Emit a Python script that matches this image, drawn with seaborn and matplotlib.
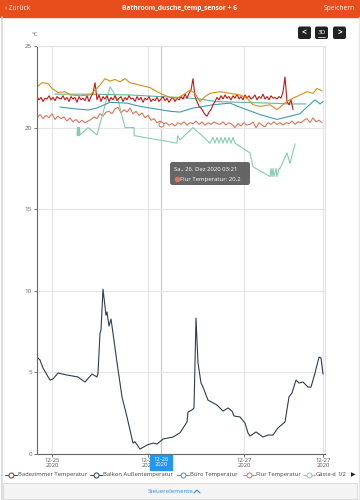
import numpy as np
import pandas as pd
import matplotlib
matplotlib.use("Agg")
import matplotlib.pyplot as plt
from matplotlib.patches import Rectangle, FancyBboxPatch
import seaborn as sns

sns.set_theme(style="white")
plt.rcParams["font.family"] = ["Open Sans", "DejaVu Sans"]

# ── data (hours since 25 Dec 2020 00:00) ────────────────────────────────────
bad_t0, bad_dt = -3.75, 0.5
bad_temp = [
    21.9, 21.7, 21.85, 21.6, 21.8, 21.75, 21.95, 21.7, 21.85, 21.65, 21.9, 21.8,
    21.75, 21.95, 21.7, 21.85, 21.6, 21.9, 21.75, 21.85, 21.55, 21.9, 21.7, 21.8,
    21.65, 21.95, 21.6, 21.9, 22.1, 22.75, 21.7, 22.0, 21.6, 21.9, 21.75, 21.95,
    21.6, 21.85, 21.7, 21.95, 21.65, 21.8, 21.9, 21.6, 21.85, 21.7, 21.95, 21.75,
    21.8, 21.6, 21.9, 21.7, 21.85, 21.55, 21.8, 21.7, 21.9, 21.6, 21.75, 21.65,
    21.85, 21.6, 21.75, 21.9, 21.65, 21.8, 21.55, 21.75, 21.85, 21.6, 21.8, 21.7,
    21.9, 21.75, 22.05, 21.8, 22.1, 22.3, 23.0, 21.9, 21.6, 21.3, 21.2, 21.0,
    20.8, 20.7, 20.95, 21.1, 21.4, 21.6, 21.85, 21.7, 21.95, 21.75, 22.0, 21.8,
    21.9, 21.7, 21.95, 21.8, 22.05, 21.75, 21.9, 21.7, 22.0, 21.8, 21.95, 21.75,
    21.85, 22.0, 21.7, 21.9, 21.8, 22.05, 21.75, 21.9, 21.7, 21.95, 21.8, 21.85,
    21.75, 21.9, 21.8, 22.2, 23.1, 21.6, 21.4, 21.7, 21.1,
]

flur_t0, flur_dt = -3.75, 0.75
flur_temp = [
    20.6, 20.8, 20.55, 20.75, 20.6, 20.85, 20.5, 20.7, 20.55, 20.65, 20.4, 20.6,
    20.35, 20.5, 20.3, 20.45, 20.3, 20.4, 20.5, 20.65, 20.55, 20.85, 20.7, 20.95,
    21.0, 20.85, 21.15, 21.25, 20.9, 21.1, 20.95, 21.2, 20.85, 21.0, 20.75, 20.9,
    20.6, 20.75, 20.45, 20.55, 20.3, 20.4, 20.2, 20.3, 20.15, 20.25, 20.1, 20.3,
    20.2, 20.35, 20.15, 20.3, 20.25, 20.4, 20.2, 20.35, 20.15, 20.3, 20.2, 20.35,
    20.25, 20.2, 20.35, 20.15, 20.3, 20.2, 20.0, 20.25, 20.1, 20.3, 20.15, 20.2,
    20.35, 20.0, 20.3, 20.15, 20.05, 20.3, 20.2, 20.35, 20.2, 20.3, 20.15, 20.3,
    20.25, 20.4, 20.2, 20.35, 20.3, 20.45, 20.55, 20.3, 20.6, 20.35, 20.45, 20.3,
]

buero_t = [2, 5.75, 9, 11.25, 14.5, 18.75, 22, 25.75, 29.5, 32, 35.25, 37, 40.25,
           44.5, 47, 52, 56.25, 59.5, 62, 63.75, 65.75, 67, 67.75]
buero_temp = [21.26, 21.15, 21.08, 21.2, 21.55, 21.5, 21.3, 21.15, 21.0, 20.95, 21.2,
              21.26, 21.4, 21.5, 21.25, 20.8, 20.5, 20.7, 20.85, 21.26, 21.7, 21.45, 21.6]

gaeste_t = [6.25, 6.38, 6.5, 6.62, 6.75, 6.88, 7, 9, 11.25, 14.5, 16.5, 18.25, 20.5,
            20.55, 20.75, 31.25, 31.4, 32, 35.25, 39.5, 40.25, 40.75, 41.25, 41.75,
            42.25, 42.75, 43.25, 43.75, 44.25, 44.75, 45.25, 45.75, 49.5, 50.25, 54.5,
            54.75, 55, 55.25, 55.5, 56, 56.25, 56.75, 57, 58.75, 59.5, 60.75]
gaeste_temp = [19.55, 20.0, 19.5, 20.0, 19.5, 20.0, 19.55, 20.0, 19.55, 22.5, 21.7,
               20.0, 20.0, 19.5, 19.5, 19.05, 19.5, 19.25, 20.0, 19.05, 19.4, 19.05,
               19.4, 19.05, 19.4, 19.05, 19.4, 19.05, 19.4, 19.05, 19.4, 19.05, 18.45,
               17.6, 17.0, 17.5, 17.0, 17.5, 17.0, 17.5, 17.0, 17.5, 17.5, 18.45, 17.8, 19.0]

kueche_t = [0.75, 9.5, 19.5, 27, 32, 37, 40.75, 47, 54.5, 59.5, 63.5]
kueche_temp = [22.05, 22.05, 22.0, 21.9, 21.85, 21.75, 21.6, 21.55, 21.5, 21.45, 21.45]

schlaf_t = [-3.5, -2.5, -1, 0, 1.5, 3.25, 4.5, 7, 9.5, 10.75, 12, 13.25, 14.5, 15.75,
            17, 18.25, 19.5, 22, 24.5, 26.25, 27.5, 29.5, 31.25, 32.75, 34.5, 35.75,
            37, 38.25, 39.5, 42, 44.5, 47, 48.75, 50.25, 52, 54.5, 56.25, 57.75,
            58.75, 60.25, 62, 63.75, 65.25, 66.25, 67.5]
schlaf_temp = [22.55, 22.75, 22.7, 22.4, 22.15, 22.2, 22.0, 21.95, 22.0, 22.3, 22.6,
               23.0, 22.85, 22.95, 22.8, 23.0, 22.75, 22.6, 22.45, 22.2, 22.05, 21.85,
               21.8, 22.0, 22.3, 22.1, 21.6, 21.9, 22.1, 22.2, 22.1, 22.0, 21.8, 21.4,
               21.3, 21.4, 21.1, 21.4, 21.6, 21.8, 22.0, 22.2, 22.1, 22.4, 22.25]

balkon_t = [-3.5, -3, -2.25, -0.5, 0.25, 1.5, 3.75, 6.5, 8.25, 10, 11.25, 11.5, 12,
            12.25, 12.75, 13.5, 13.75, 14.25, 14.75, 15.25, 16.25, 17.5, 18.75, 20.25,
            20.75, 22, 23.75, 25.25, 26.25, 27.75, 30.25, 32, 33.75, 34, 35, 35.5, 36,
            36.5, 37.25, 37.75, 39, 41.25, 42.75, 44, 45, 45.5, 47, 48.25, 49, 49.5,
            51, 52.75, 54, 55.25, 56.5, 58.25, 59.25, 60, 61, 61.75, 62.75, 64, 64.75,
            65.75, 66.75, 67.25, 67.75]
balkon_temp = [5.88, 5.76, 5.27, 4.53, 4.6, 4.96, 4.84, 4.72, 4.41, 4.9, 4.72, 4.96,
               7.4, 7.6, 10.1, 8.5, 8.7, 7.84, 8.27, 7.4, 5.6, 3.5, 2.27, 0.67, 0.75,
               0.3, 0.55, 0.67, 0.61, 0.92, 1.04, 1.3, 1.96, 2.57, 2.7, 2.82, 8.33,
               5.58, 4.35, 4.1, 3.3, 3.0, 2.63, 2.82, 2.63, 2.33, 2.27, 1.9, 1.29, 1.1,
               1.35, 1.04, 1.16, 1.16, 1.6, 1.96, 3.5, 3.74, 4.53, 4.35, 4.41, 4.1, 4.1,
               4.96, 5.94, 5.88, 4.9]

legend_names = ["Badezimmer Temperatur", "Balkon Außentemperatur", "Büro Temperatur",
                "Flur Temperatur", "Gäste"]
tick_hours = [0, 24, 48, 67.75]
tick_labels = ["12-25\n2020", "12-26\n2020", "12-27\n2020", "12-27\n2020"]
cursor_hour, cursor_value = 27.3, 20.2

colors = {
    "bad": "#CC1515", "balkon": "#2C3E50", "buero": "#3D9DB0", "flur": "#E0765A",
    "gaeste": "#86CDB0", "kueche": "#62B49E", "schlaf": "#DB8E12",
}

def frame(t, v):
    return pd.DataFrame({"t": t, "v": v})

bad_df = frame(bad_t0 + bad_dt * np.arange(len(bad_temp)), bad_temp)
flur_df = frame(flur_t0 + flur_dt * np.arange(len(flur_temp)), flur_temp)

# ── figure ───────────────────────────────────────────────────────────────────
fig = plt.figure(figsize=(3.6, 5), dpi=100)
fig.patch.set_facecolor("white")
ax = fig.add_axes([37 / 360, 46 / 500, 288 / 360, 408 / 500])

series = [
    (frame(balkon_t, balkon_temp), "balkon"),
    (flur_df, "flur"),
    (frame(gaeste_t, gaeste_temp), "gaeste"),
    (frame(buero_t, buero_temp), "buero"),
    (frame(kueche_t, kueche_temp), "kueche"),
    (bad_df, "bad"),
    (frame(schlaf_t, schlaf_temp), "schlaf"),
]
for df, key in series:
    sns.lineplot(data=df, x="t", y="v", ax=ax, color=colors[key], lw=0.8,
                 estimator=None, sort=False, legend=False)

ax.plot(cursor_hour, cursor_value, "o", ms=3.5, mfc="white", mec=colors["flur"], mew=0.7)
ax.axvline(cursor_hour, color="#C8C8C8", lw=0.8, zorder=0)

ax.set_xlim(-3.75, 68.25)
ax.set_ylim(0, 25)
ax.set_yticks([0, 5, 10, 15, 20, 25])
ax.set_xticks(tick_hours)
ax.set_xticklabels(tick_labels, fontsize=4.2, color="#555", linespacing=0.9)
ax.tick_params(axis="y", labelsize=4.5, labelcolor="#666", length=2, width=0.6,
               color="#666", pad=1.5, left=True)
ax.tick_params(axis="x", length=2, width=0.6, color="#666", pad=1, bottom=True)
ax.set_xlabel("")
ax.set_ylabel("")
ax.grid(True, color="#E6E6E6", lw=0.8)
ax.set_axisbelow(True)
for side in ["left", "bottom"]:
    ax.spines[side].set_color("#666")
    ax.spines[side].set_linewidth(0.8)
for side in ["right", "top"]:
    ax.spines[side].set_color("#E2E2E2")
    ax.spines[side].set_linewidth(0.8)

# ── app chrome (pixel coordinates) ───────────────────────────────────────────
ui = fig.add_axes([0, 0, 1, 1], zorder=5)
ui.set_xlim(0, 360)
ui.set_ylim(500, 0)
ui.axis("off")

ui.add_patch(Rectangle((0, 0), 360, 17, color="#E84E1B"))
ui.text(5, 8.7, "‹ Zurück", color="white", fontsize=4.8, va="center")
ui.text(180, 8.7, "Bathroom_dusche_temp_sensor + 6", color="white", fontsize=4.8,
        fontweight="bold", ha="center", va="center")
ui.text(355, 8.7, "Speichern", color="white", fontsize=4.8, ha="right", va="center")
ui.plot([1.5, 1.5], [17, 500], color="#D8D8D8", lw=1.2)
ui.plot([358.5, 358.5], [17, 500], color="#E6E6E6", lw=1)

for x0, label in [(298, "<"), (315, "3D"), (333, ">")]:
    ui.add_patch(FancyBboxPatch((x0, 26.5), 13, 12.5,
                                boxstyle="round,pad=0,rounding_size=2",
                                fc="#222222", ec="none"))
    ui.text(x0 + 6.5, 32.8, label, color="white", fontsize=4.6 if label == "3D" else 6,
            ha="center", va="center", fontweight="bold" if label != "3D" else "normal")
ui.plot([318, 325], [36.5, 36.5], color="white", lw=0.5)

ui.text(35, 34.5, "°C", fontsize=4.3, color="#666", ha="center", va="center")

ui.add_patch(FancyBboxPatch((170, 162), 80, 23, boxstyle="round,pad=0,rounding_size=2.5",
                            fc="#595959", ec="none", alpha=0.92))
ui.text(174, 169.5, "Sa., 26. Dez 2020 03:21", color="white", fontsize=4.3, va="center")
ui.plot(176.5, 179, "o", ms=3, color=colors["flur"])
ui.text(180.5, 179, "Flur Temperatur: 20.2", color="white", fontsize=4.3, va="center")

ui.add_patch(Rectangle((150, 455), 22, 14.5, color="#2196F3"))
ui.text(161, 462.2, "12-26\n2020", color="white", fontsize=4.2, ha="center",
        va="center", linespacing=0.9)

leg_y = 474.5
leg_keys = ["bad", "balkon", "buero", "flur", "gaeste"]
leg_sym = [11, 95.5, 182.5, 248.5, 308.5]
for key, name, cx in zip(leg_keys, legend_names, leg_sym):
    ui.plot([cx - 6, cx + 6], [leg_y, leg_y], color=colors[key], lw=0.7)
    ui.plot(cx, leg_y, "o", ms=3.6, mfc="white", mec=colors[key], mew=0.7)
    ui.text(cx + 7.5, leg_y, name, fontsize=4.2, color="#444", va="center")
ui.text(331, leg_y, "◀", fontsize=4.2, color="#AAA", va="center", family=["DejaVu Sans"])
ui.text(337.5, leg_y, "1/2", fontsize=4.2, color="#444", va="center")
ui.text(351, leg_y, "▶", fontsize=4.2, color="#222", va="center", family=["DejaVu Sans"])

ui.add_patch(Rectangle((3, 482.5), 354, 16.5, fc="#F4F4F4", ec="#DDDDDD", lw=0.8))
ui.text(171, 491.5, "Steuerelemente", fontsize=4.4, color="#2A8FE0", ha="center", va="center")
ui.plot([194, 197, 200], [493, 490, 493], color="#2A8FE0", lw=0.8)

fig.savefig("out.png", dpi=100)
